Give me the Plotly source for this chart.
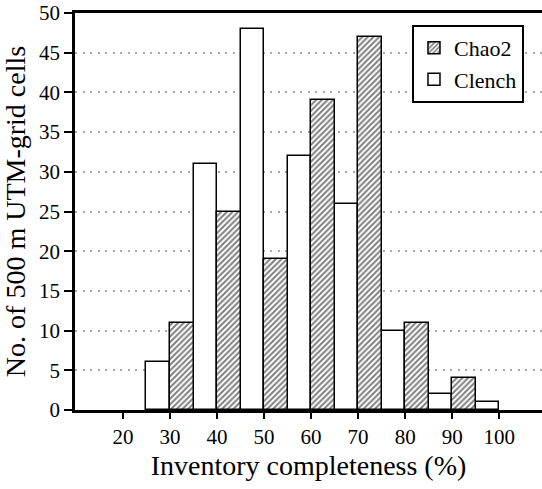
import plotly.graph_objects as go

categories = [20, 30, 40, 50, 60, 70, 80, 90, 100]
clench = [0, 6, 31, 48, 32, 26, 10, 2, 1]
chao2 = [0, 11, 25, 19, 39, 47, 11, 4, 0]
y_ticks = [0, 5, 10, 15, 20, 25, 30, 35, 40, 45, 50]

FONT = "Liberation Serif"

def drawn(vals):
    # zero-height bars are not drawn in the original
    return [v if v != 0 else None for v in vals]

fig = go.Figure()
fig.add_trace(go.Bar(
    x=categories, y=drawn(clench), name="Clench",
    marker=dict(color="white", line=dict(color="black", width=1.5)),
))
fig.add_trace(go.Bar(
    x=categories, y=drawn(chao2), name="Chao2",
    marker=dict(color="white", line=dict(color="black", width=1.5),
                pattern=dict(shape="/", fgcolor="black", bgcolor="white",
                             size=4, solidity=0.5)),
))

fig.update_layout(
    width=542, height=489,
    margin=dict(l=75, r=0, t=13, b=79, autoexpand=False),
    paper_bgcolor="white", plot_bgcolor="white",
    barmode="group", bargap=0, bargroupgap=0,
    font=dict(family=FONT, size=21, color="black"),
    showlegend=True,
    legend=dict(
        x=0.7216, y=0.970, xanchor="left", yanchor="top",
        traceorder="reversed",
        bgcolor="white", bordercolor="black", borderwidth=2,
        font=dict(family=FONT, size=22, color="black"),
        tracegroupgap=0,
    ),
    xaxis=dict(
        range=[9.8, 109.1],
        tickmode="array", tickvals=categories,
        ticktext=[str(c) for c in categories],
        showline=True, linecolor="black", linewidth=2.5, mirror=True,
        ticks="outside", ticklen=6, tickwidth=2, tickcolor="black",
        showgrid=False, zeroline=False, automargin=False,
        ticklabeloverflow="allow",
        title=dict(text="Inventory completeness (%)",
                   font=dict(family=FONT, size=28, color="black"), standoff=8),
        tickfont=dict(family=FONT, size=21, color="black"),
    ),
    yaxis=dict(
        range=[0, 50],
        tickmode="array", tickvals=y_ticks,
        showline=True, linecolor="black", linewidth=2.5,
        ticks="outside", ticklen=8, tickwidth=2, tickcolor="black",
        showgrid=True, gridcolor="#a8a8a8", griddash="2px,5.5px", gridwidth=2,
        zeroline=False, automargin=False,
        ticklabeloverflow="allow",
        title=dict(text="No. of 500 m UTM-grid cells",
                   font=dict(family=FONT, size=28, color="black"), standoff=6),
        tickfont=dict(family=FONT, size=21, color="black"),
    ),
)

fig.write_html("out.html", config={"displayModeBar": False},
               post_script="document.body.style.margin='0px';")
